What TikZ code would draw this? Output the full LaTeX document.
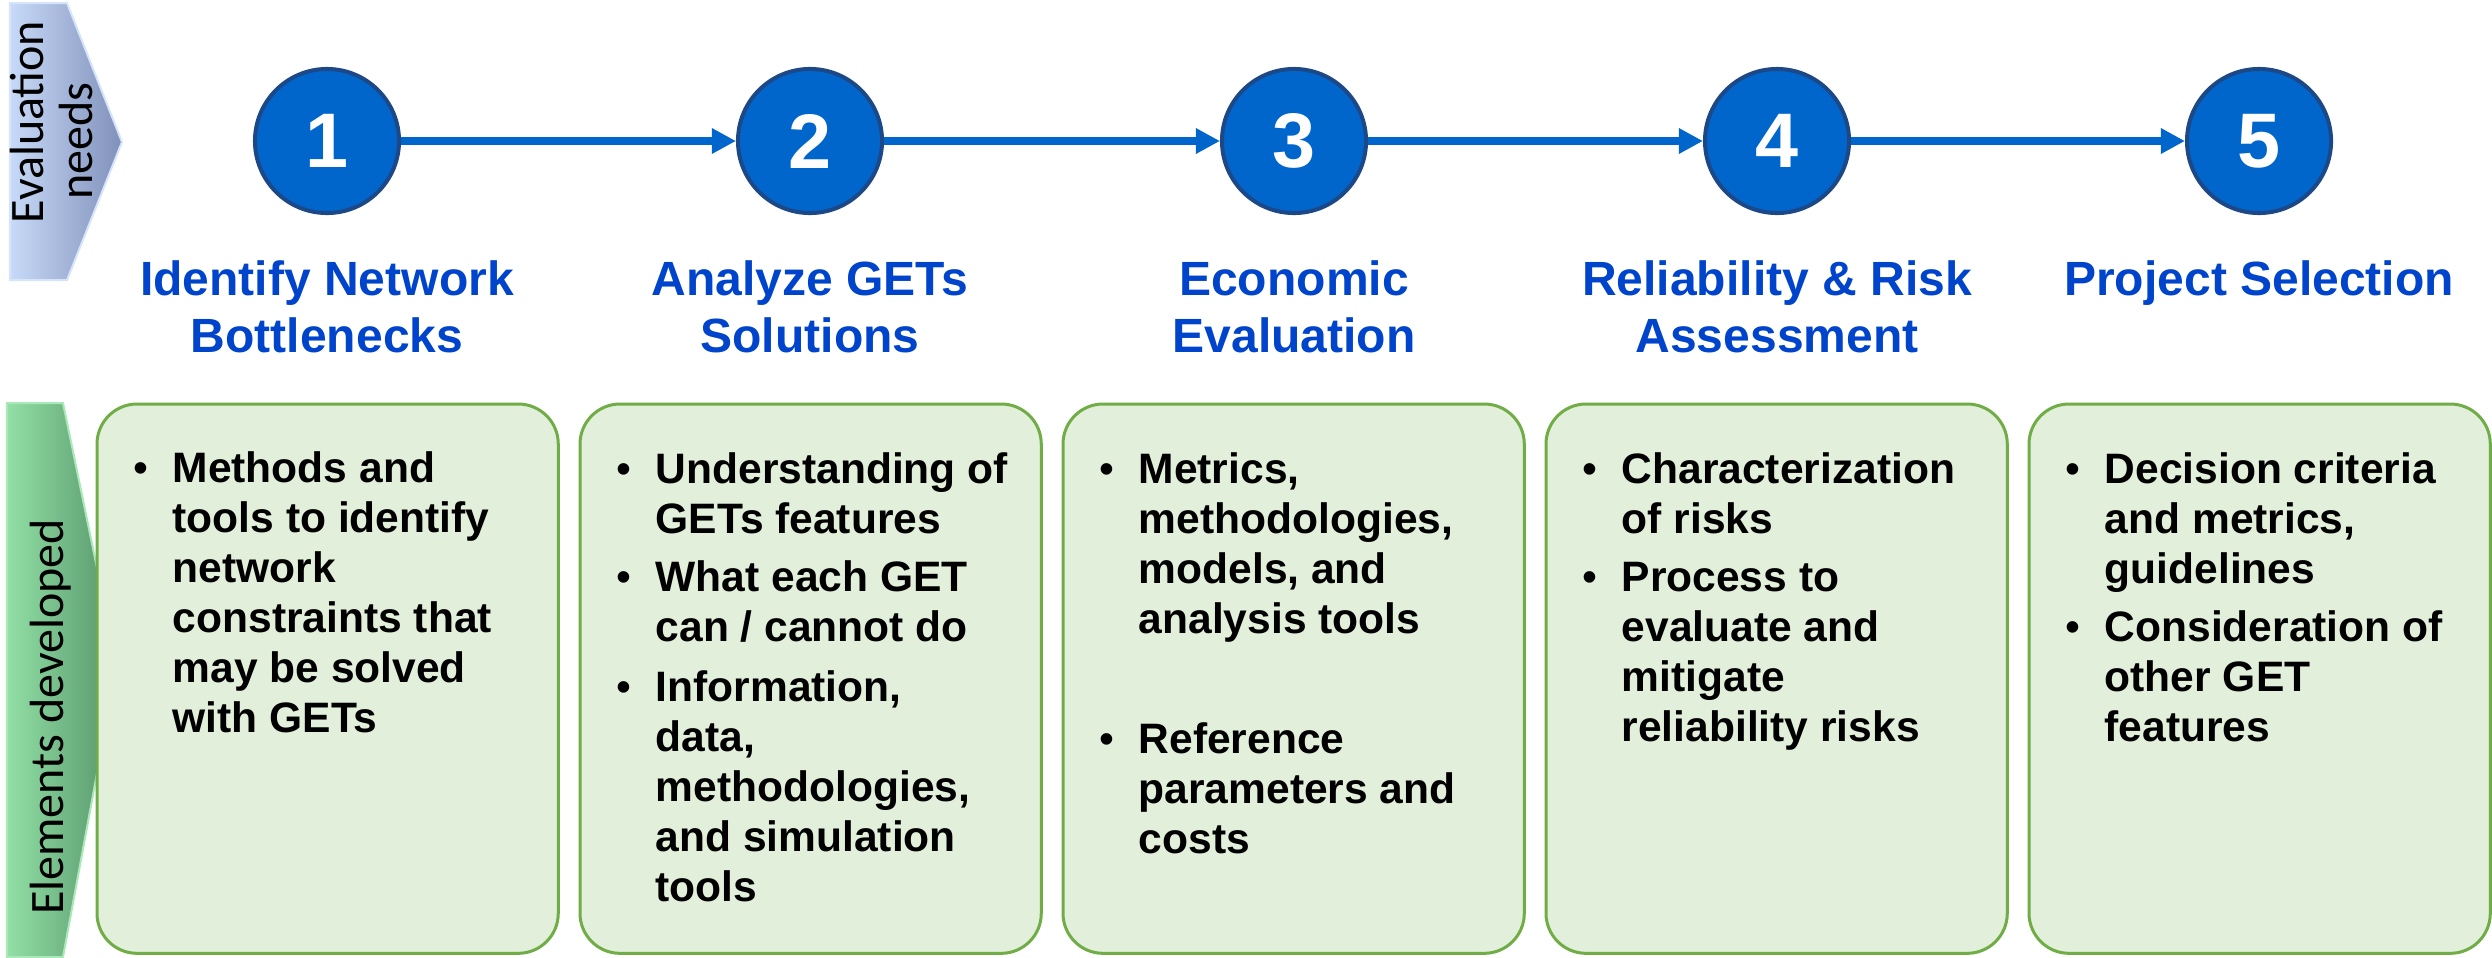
\documentclass[tikz,border=0pt]{standalone}
\usepackage{fontspec}
\setmainfont{Liberation Sans}
\newfontfamily\calfont{Carlito}
\usetikzlibrary{arrows.meta}
\definecolor{stepblue}{RGB}{0,102,204}
\definecolor{stepedge}{RGB}{28,72,135}
\definecolor{titleblue}{RGB}{0,68,204}
\definecolor{boxfill}{RGB}{226,239,218}
\definecolor{boxedge}{RGB}{112,173,71}
\definecolor{chevblueL}{RGB}{200,218,248}
\definecolor{chevblueR}{RGB}{128,144,186}
\definecolor{chevblueE}{RGB}{214,228,250}
\definecolor{chevgreenL}{RGB}{146,224,166}
\definecolor{chevgreenR}{RGB}{86,148,106}
\definecolor{chevgreenE}{RGB}{170,232,185}
\begin{document}
\begin{tikzpicture}[x=0.01cm,y=-0.01cm,
 stepnode/.style={circle, fill=stepblue, draw=stepedge, line width=0.04cm, minimum size=1.44cm, inner sep=0pt, text=white, font=\fontsize{22pt}{26pt}\selectfont\bfseries},
 flow/.style={draw=stepblue, line width=0.08cm, -{Triangle[length=0.24cm,width=0.24cm]}},
 titleline/.style={anchor=base, inner sep=0pt, text=titleblue, font=\fontsize{13.66pt}{16pt}\selectfont\bfseries},
 boxnode/.style={anchor=north west, draw=boxedge, fill=boxfill, line width=0.03cm, rounded corners=0.4cm, minimum width=4.61cm, minimum height=5.49cm, inner sep=0pt, outer sep=0pt},
 bodyline/.style={anchor=base west, inner sep=0pt, font=\fontsize{12.1pt}{14pt}\selectfont\bfseries},
 bulletmark/.style={anchor=base, inner sep=0pt, font=\fontsize{12.1pt}{14pt}\selectfont},
 sidelabel/.style={anchor=base, rotate=90, inner sep=0pt, font=\calfont\fontsize{13.66pt}{16pt}\selectfont},
]
\useasboundingbox (0,0) rectangle (2492,957);

% side chevrons
\draw[left color=chevblueL, right color=chevblueR, draw=chevblueE, line width=0.02cm]
  (10,3) -- (67,3) -- (122,142) -- (67,280) -- (10,280) -- cycle;
\draw[left color=chevgreenL, right color=chevgreenR, draw=chevgreenE, line width=0.02cm]
  (7,403) -- (63,403) -- (117,665) -- (63,957) -- (7,957) -- cycle;
\node[sidelabel] (evl1) at (43,122) {Evaluation};
\node[sidelabel] (evl2) at (92,141) {needs};
\node[sidelabel] (elab) at (63,717) {Elements developed};

% step circles
\node[stepnode] (c1) at (327,141) {1};
\node[stepnode] (c2) at (810,141) {2};
\node[stepnode] (c3) at (1294,141) {3};
\node[stepnode] (c4) at (1777,141) {4};
\node[stepnode] (c5) at (2259,141) {5};
\draw[flow] (c1) -- (c2);
\draw[flow] (c2) -- (c3);
\draw[flow] (c3) -- (c4);
\draw[flow] (c4) -- (c5);

% titles
\node[titleline] (t1a) at (327,295) {Identify Network};
\node[titleline] (t1b) at (327,352) {Bottlenecks};
\node[titleline] (t2a) at (810,295) {Analyze GETs};
\node[titleline] (t2b) at (810,352) {Solutions};
\node[titleline] (t3a) at (1294,295) {Economic};
\node[titleline] (t3b) at (1294,352) {Evaluation};
\node[titleline] (t4a) at (1777,295) {Reliability \& Risk};
\node[titleline] (t4b) at (1777,352) {Assessment};
\node[titleline] (t5a) at (2259,295) {Project Selection};

% boxes
\node[boxnode] (b1) at (97,404) {};
\node[boxnode] (b2) at (580,404) {};
\node[boxnode] (b3) at (1063,404) {};
\node[boxnode] (b4) at (1546,404) {};
\node[boxnode] (b5) at (2029,404) {};

% box 1
\node[bulletmark] (b1m1) at (141,482) {•};
\node[bodyline] (b1l1) at (172,482) {Methods and};
\node[bodyline] (b1l2) at (172,532) {tools to identify};
\node[bodyline] (b1l3) at (172,582) {network};
\node[bodyline] (b1l4) at (172,632) {constraints that};
\node[bodyline] (b1l5) at (172,682) {may be solved};
\node[bodyline] (b1l6) at (172,732) {with GETs};

% box 2
\node[bulletmark] (b2m1) at (624,483) {•};
\node[bodyline] (b2l1) at (655,483) {Understanding of};
\node[bodyline] (b2l2) at (655,533) {GETs features};
\node[bulletmark] (b2m2) at (624,591) {•};
\node[bodyline] (b2l3) at (655,591) {What each GET};
\node[bodyline] (b2l4) at (655,641) {can / cannot do};
\node[bulletmark] (b2m3) at (624,701) {•};
\node[bodyline] (b2l5) at (655,701) {Information,};
\node[bodyline] (b2l6) at (655,751) {data,};
\node[bodyline] (b2l7) at (655,801) {methodologies,};
\node[bodyline] (b2l8) at (655,851) {and simulation};
\node[bodyline] (b2l9) at (655,901) {tools};

% box 3
\node[bulletmark] (b3m1) at (1107,483) {•};
\node[bodyline] (b3l1) at (1138,483) {Metrics,};
\node[bodyline] (b3l2) at (1138,533) {methodologies,};
\node[bodyline] (b3l3) at (1138,583) {models, and};
\node[bodyline] (b3l4) at (1138,633) {analysis tools};
\node[bulletmark] (b3m2) at (1107,753) {•};
\node[bodyline] (b3l5) at (1138,753) {Reference};
\node[bodyline] (b3l6) at (1138,803) {parameters and};
\node[bodyline] (b3l7) at (1138,853) {costs};

% box 4
\node[bulletmark] (b4m1) at (1590,483) {•};
\node[bodyline] (b4l1) at (1621,483) {Characterization};
\node[bodyline] (b4l2) at (1621,533) {of risks};
\node[bulletmark] (b4m2) at (1590,591) {•};
\node[bodyline] (b4l3) at (1621,591) {Process to};
\node[bodyline] (b4l4) at (1621,641) {evaluate and};
\node[bodyline] (b4l5) at (1621,691) {mitigate};
\node[bodyline] (b4l6) at (1621,741) {reliability risks};

% box 5
\node[bulletmark] (b5m1) at (2073,483) {•};
\node[bodyline] (b5l1) at (2104,483) {Decision criteria};
\node[bodyline] (b5l2) at (2104,533) {and metrics,};
\node[bodyline] (b5l3) at (2104,583) {guidelines};
\node[bulletmark] (b5m2) at (2073,641) {•};
\node[bodyline] (b5l4) at (2104,641) {Consideration of};
\node[bodyline] (b5l5) at (2104,691) {other GET};
\node[bodyline] (b5l6) at (2104,741) {features};
\end{tikzpicture}
\end{document}
